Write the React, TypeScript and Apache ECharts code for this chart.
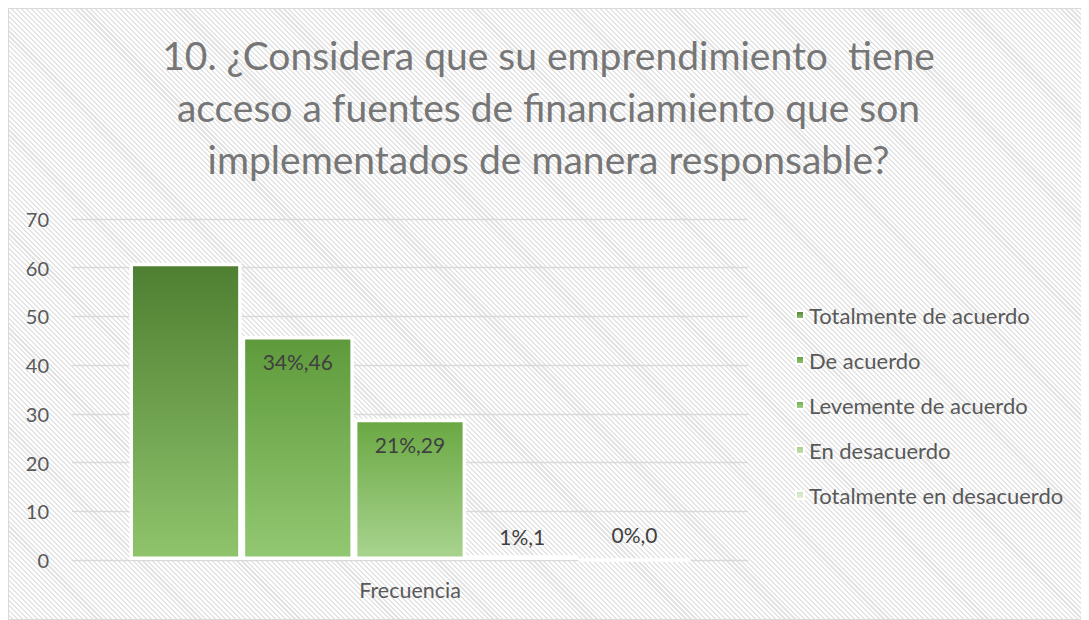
import React, { useEffect, useRef } from "react";
import * as echarts from "echarts";

const categories = ["Frecuencia"];
const seriesNames = [
  "Totalmente de acuerdo",
  "De acuerdo",
  "Levemente de acuerdo",
  "En desacuerdo",
  "Totalmente en desacuerdo",
];
const seriesValues = [61, 46, 29, 1, 0];
const titleLines = [
  "10. ¿Considera que su emprendimiento  tiene",
  "acceso a fuentes de financiamiento que son",
  "implementados de manera responsable?",
];
const yMin = 0;
const yMax = 70;
const yInterval = 10;

const topColors = ["#4f7f31", "#5e9a3b", "#6aa843", "#a6cf8b", "#c9e2b8"];
const bottomColors = ["#8fc46c", "#93c872", "#a9d48f", "#c3e0b0", "#e3f0da"];
const labelPos = [null, "insideTop", "insideTop", "top", "top"];
const labelDist = [0, 13, 13, 6, 11];

const FONT = "Lato";

export default function App() {
  const ref = useRef<HTMLDivElement>(null);
  useEffect(() => {
    if (!ref.current) return;
    const chart = echarts.init(ref.current, undefined, { renderer: "svg" });
    const total = seriesValues.reduce((a, b) => a + b, 0);
    const series = seriesNames.map((name, i) => ({
      name,
      type: "bar",
      data: [seriesValues[i]],
      barGap: "0%",
      barCategoryGap: "17%",
      itemStyle: {
        color: new echarts.graphic.LinearGradient(0, 0, 0, 1, [
          { offset: 0, color: topColors[i] },
          { offset: 1, color: bottomColors[i] },
        ]),
        borderColor: "#ffffff",
        borderWidth: 3.5,
      },
      label: labelPos[i]
        ? {
            show: true,
            position: labelPos[i],
            distance: labelDist[i],
            color: "#404040",
            fontFamily: FONT,
            fontSize: 21,
            lineHeight: 25,
            formatter: (p: any) =>
              Math.round((p.value / total) * 100) + "%," + p.value,
          }
        : { show: false },
    }));
    chart.setOption({
      animation: false,
      textStyle: { fontFamily: FONT },
      title: {
        text: titleLines.join("\n"),
        left: "center",
        top: 15,
        textStyle: {
          fontFamily: FONT,
          fontSize: 39,
          fontWeight: "normal",
          color: "#767676",
          lineHeight: 52,
        },
      },
      legend: {
        orient: "vertical",
        left: 781,
        top: 289,
        icon: "rect",
        itemWidth: 8,
        itemHeight: 8,
        itemGap: 21,
        textStyle: {
          fontFamily: FONT,
          fontSize: 22,
          color: "#595959",
          lineHeight: 24,
        },
        data: seriesNames,
      },
      grid: { left: 63, right: 340, top: 210, bottom: 59 },
      xAxis: {
        type: "category",
        data: categories,
        axisLine: { show: true, lineStyle: { color: "#d9d9d9" } },
        axisTick: { show: false },
        axisLabel: {
          color: "#595959",
          fontFamily: FONT,
          fontSize: 21.5,
          margin: 19,
        },
      },
      yAxis: {
        type: "value",
        min: yMin,
        max: yMax,
        interval: yInterval,
        axisLine: { show: false },
        axisTick: { show: false },
        axisLabel: {
          color: "#595959",
          fontFamily: FONT,
          fontSize: 20,
          margin: 23,
        },
        splitLine: { lineStyle: { color: "#d9d9d9", width: 1.3 } },
      },
      series,
    });
    return () => chart.dispose();
  }, []);
  return (
    <div
      style={{
        width: 1079,
        height: 610,
        border: "1px solid #d9d9d9",
        background:
          "repeating-linear-gradient(45deg, #ffffff 0px, #ffffff 2px, #e4e4e4 2px, #e4e4e4 3.5px)",
      }}
    >
      <div ref={ref} style={{ width: 1079, height: 610 }} />
    </div>
  );
}
